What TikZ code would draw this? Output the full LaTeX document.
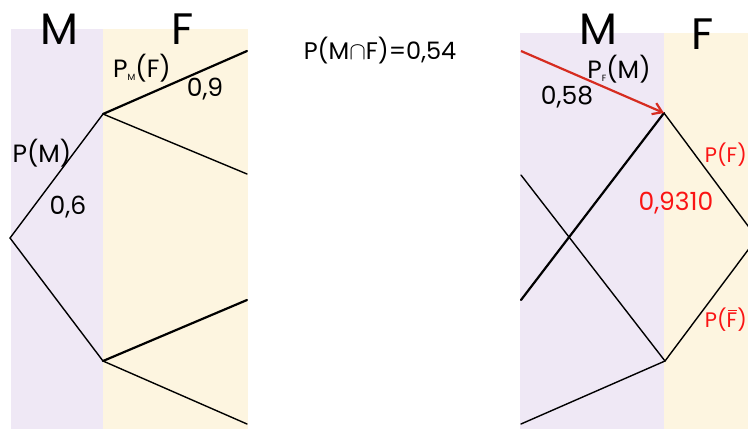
\documentclass[tikz,border=0pt]{standalone}
\usepackage{fontspec}
\setmainfont{Poppins}
\usepackage{tikz}
\usetikzlibrary{arrows.meta}
\definecolor{mfill}{RGB}{239,232,245}
\definecolor{ffill}{RGB}{253,245,224}
\definecolor{arrred}{RGB}{214,44,32}
\definecolor{txtred}{RGB}{250,20,20}
\newcommand{\sub}[1]{{\fontsize{9}{9}\selectfont\raisebox{-3pt}{#1}}}
\newcommand{\notF}{\makebox[0pt][l]{\hspace{0.04em}\rule[0.8em]{0.46em}{1.3pt}}F}
\tikzset{
  branch/.style={line width=1.4pt,line cap=round},
  thickbranch/.style={line width=2.2pt,line cap=round},
  big/.style={font=\fontsize{44}{44}\selectfont},
  lab/.style={font=\fontsize{25}{25}\selectfont,inner sep=0pt},
  edgelab/.style={lab,txtred,anchor=east,font=\fontsize{21}{21}\selectfont},
}

\begin{document}
\begin{tikzpicture}[x=1pt,y=-1pt]
\useasboundingbox (0,0) rectangle (748,429);

% ---------------- left tree: M first ----------------
\begin{scope}
\fill[mfill] (11,29) rectangle (103,429);
\fill[ffill] (103,29) rectangle (248,429);
\node[big] (lM) at (59,29) {M};
\node[big] (lF) at (183,29) {F};
% nodes of the tree
\coordinate (lroot) at (10,238);
\coordinate (lm) at (103,114);
\coordinate (lmb) at (103,361);
\foreach \n/\y in {lmf/51,lmfb/174,lmbf/300,lmbfb/424}{
  \coordinate (\n) at (247,\y);
}
\draw[branch] (lm) -- (lroot) -- (lmb);
\draw[thickbranch] (lm) -- (lmf);
\draw[branch] (lm) -- (lmfb);
\draw[thickbranch] (lmb) -- (lmbf);
\draw[branch] (lmb) -- (lmbfb);
\node[lab] (lpm) at (42,153) {P(M)};
\node[lab] (lpmv) at (68,207) {0,6};
\node[lab] (lpf) at (142,68) {P\sub{M}(F)};
\node[lab] (lpfv) at (205,89) {0,9};
\end{scope}

% ---------------- middle ----------------
\node[lab,font=\fontsize{24}{24}\selectfont] (inter) at (380,51)
  {P(M\ensuremath{\cap}F)=0,54};

% ---------------- right tree: F first ----------------
\begin{scope}
\fill[mfill] (520,33) rectangle (664,429);
\fill[ffill] (664,33) rectangle (760,429);
\node[big] (rM) at (598,29) {M};
\node[big] (rF) at (703,34) {F};
\coordinate (rroot) at (757,238);
\coordinate (rf) at (664,113);
\coordinate (rfb) at (665,361);
\foreach \n/\y in {rfm/51,rfbm/175,rfmb/300,rfbmb/424}{
  \coordinate (\n) at (521,\y);
}
\draw[branch] (rf) -- (rroot) -- (rfb);
\draw[thickbranch] (rf) -- (rfmb);
\draw[branch] (rfb) -- (rfbm);
\draw[branch] (rfb) -- (rfbmb);
% asked branch
\draw[arrred,line width=2.2pt,-{Straight Barb[length=9pt,width=12pt]}] (rfm) -- (rf);
\node[lab] (rpm) at (619,69) {P\sub{F}(M)};
\node[lab] (rpmv) at (567,97) {0,58};
\node[edgelab] (rpf) at (747,155) {P(F)};
\node[lab,txtred] (rpfv) at (676,203) {0,9310};
\node[edgelab] (rpfb) at (747,320) {P(\notF)};
\end{scope}

\end{tikzpicture}
\end{document}
